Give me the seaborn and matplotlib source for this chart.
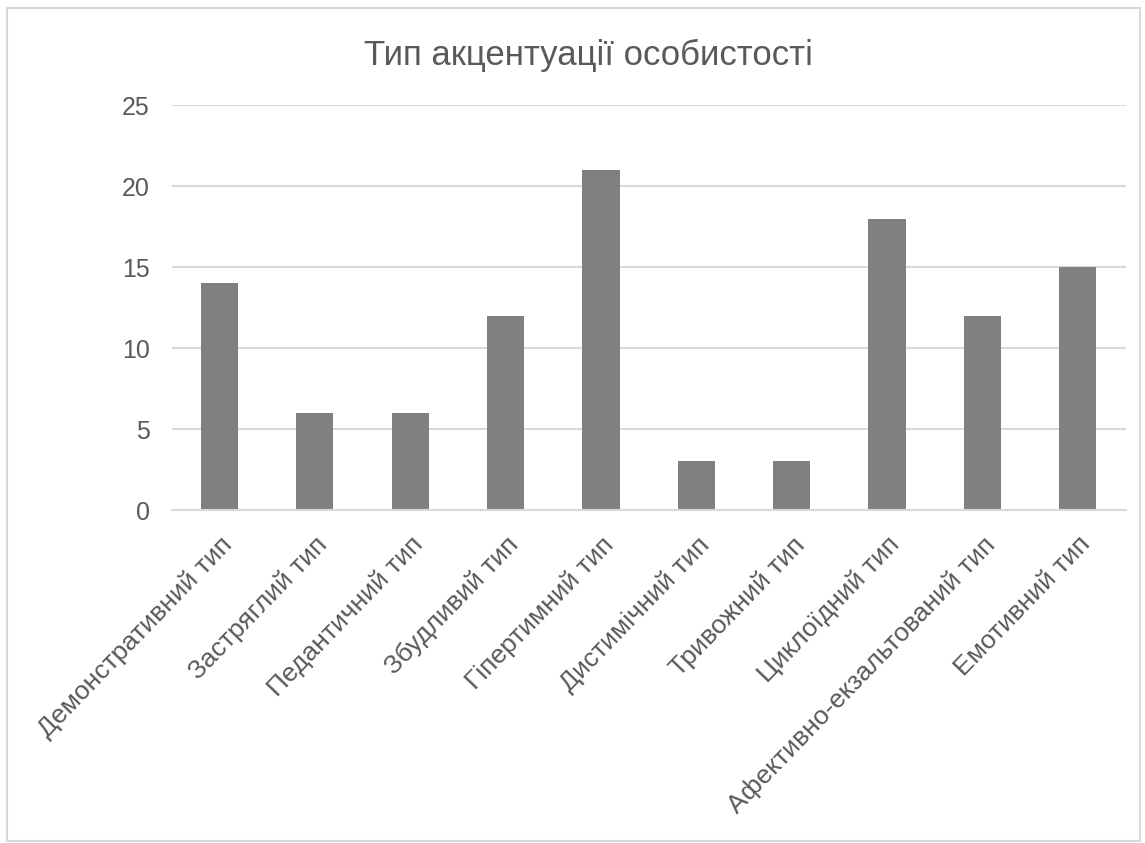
import matplotlib
matplotlib.use("Agg")
import matplotlib.pyplot as plt
import seaborn as sns
import pandas as pd
from matplotlib.patches import Rectangle

categories = ["Демонстративний тип", "Застряглий тип", "Педантичний тип", "Збудливий тип",
              "Гіпертимний тип", "Дистимічний тип", "Тривожний тип", "Циклоїдний тип",
              "Афективно-екзальтований тип", "Емотивний тип"]
values = [14, 6, 6, 12, 21, 3, 3, 18, 12, 15]
yticks = [0, 5, 10, 15, 20, 25]
title = "Тип акцентуації особистості"

sns.set_theme(style="white")
plt.rcParams['font.family'] = ['Liberation Sans', 'DejaVu Sans']

df = pd.DataFrame({"cat": categories, "val": values})

fig = plt.figure(figsize=(11.45, 8.43), dpi=100)
ax = fig.add_axes([0.150, 0.395, 0.833, 0.480])
sns.barplot(data=df, x="cat", y="val", color="#808080", saturation=1, width=0.39, ax=ax)
for p in ax.patches:
    p.set_edgecolor("none")

ax.set_xlim(-0.5, len(categories) - 0.5)
ax.set_ylim(0, 25)
ax.set_yticks(yticks)
ax.set_yticklabels([str(t) for t in yticks], fontsize=18, color="#595959")
ax.grid(axis="y", color="#d9d9d9", linewidth=1.5)
ax.set_axisbelow(True)
for s in ["top", "right", "left"]:
    ax.spines[s].set_visible(False)
ax.spines["bottom"].set_color("#d9d9d9")
ax.spines["bottom"].set_linewidth(1.5)
ax.tick_params(axis="y", length=0, pad=16)
ax.tick_params(axis="x", length=0, pad=16)
ax.set_xticks(range(len(categories)))
ax.set_xticklabels(categories, rotation=46, ha="right", rotation_mode="anchor",
                   fontsize=19, color="#595959")
ax.set_xlabel("")
ax.set_ylabel("")

fig.text(588 / 1145, 1 - 65 / 843, title, fontsize=25, color="#595959",
         ha="center", va="baseline")

fig.patches.append(Rectangle((7/1145, 2/843), 1133/1145, 833/843, transform=fig.transFigure,
                             fill=False, edgecolor="#d9d9d9", linewidth=1.5))

fig.savefig("out.png", dpi=100, facecolor="white")
